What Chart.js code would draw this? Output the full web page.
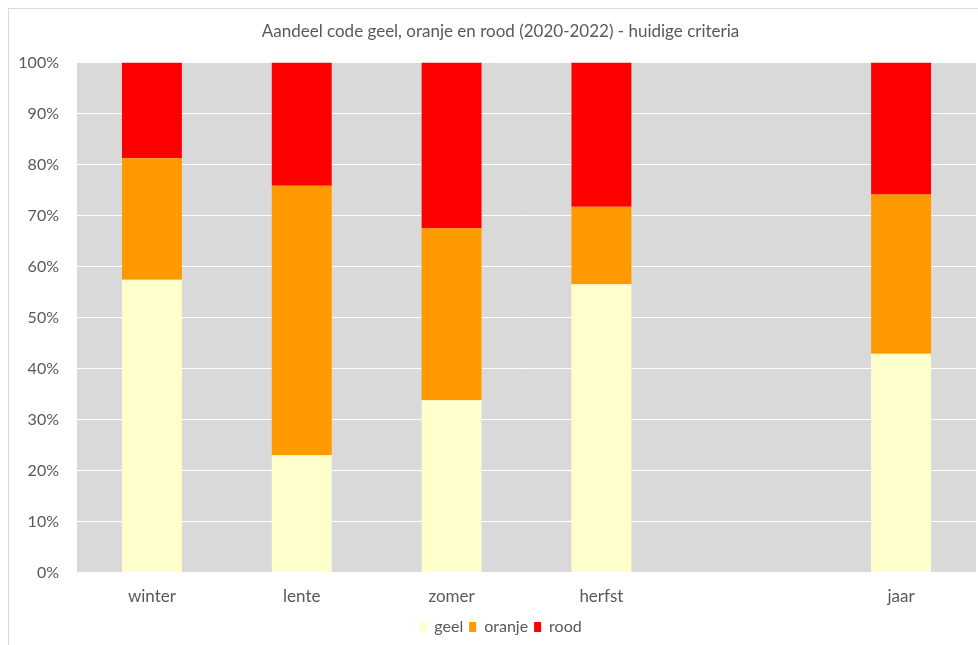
<!DOCTYPE html>
<html>
<head>
<meta charset="utf-8">
<script src="https://cdn.jsdelivr.net/npm/chart.js@4/dist/chart.umd.min.js"></script>
<style>
  html, body { margin: 0; padding: 0; background: #fff; overflow: hidden; }
  #wrap { width: 1000px; height: 645px; }
</style>
</head>
<body>
<div id="wrap"><canvas id="myChart" width="1000" height="645"></canvas></div>
<script>
const categories = ['winter', 'lente', 'zomer', 'herfst', '', 'jaar']
const geel = [57.4, 23.0, 33.8, 56.5, null, 42.9]
const oranje = [23.8, 52.8, 33.7, 15.2, null, 31.2]
const rood = [18.8, 24.2, 32.5, 28.3, null, 25.9]
const yTicks = [0, 10, 20, 30, 40, 50, 60, 70, 80, 90, 100]

const textColor = '#595959'
const fontFamily = 'Lato, "Open Sans", sans-serif'

// grey plot background and the thin frame round the whole chart
const frame = {
    id: 'frame',
    beforeDraw(chart) {
        const ctx = chart.ctx
        const a = chart.chartArea
        ctx.save()
        ctx.fillStyle = '#ffffff'
        ctx.fillRect(0, 0, chart.width, chart.height)
        ctx.strokeStyle = '#d9d9d9'
        ctx.lineWidth = 1
        ctx.strokeRect(8.5, 8.5, 985, 700)
        ctx.fillStyle = '#d9d9d9'
        ctx.fillRect(a.left, a.top, a.right - a.left, a.bottom - a.top)
        ctx.restore()
    }
}

const ctx = document.getElementById('myChart')

new Chart(ctx, {
    type: 'bar',
    data: {
        labels: categories,
        datasets: [
            { label: 'geel', data: geel, backgroundColor: '#ffffcc' },
            { label: 'oranje', data: oranje, backgroundColor: '#ff9900' },
            { label: 'rood', data: rood, backgroundColor: '#ff0000' }
        ]
    },
    options: {
        responsive: false,
        animation: false,
        layout: { padding: { left: 8, right: 7, top: 8, bottom: 0 } },
        datasets: { bar: { barPercentage: 0.4, categoryPercentage: 1.0 } },
        scales: {
            x: {
                stacked: true,
                grid: { display: false },
                border: { display: false },
                ticks: { color: textColor, font: { family: fontFamily, size: 17 }, padding: 6 }
            },
            y: {
                stacked: true,
                min: 0,
                max: 100,
                afterBuildTicks: (scale) => { scale.ticks = yTicks.map(v => ({ value: v })) },
                afterFit: (scale) => { scale.width = 69 },
                grid: { color: '#ffffff', lineWidth: 1, drawTicks: false },
                border: { display: false },
                ticks: {
                    color: textColor,
                    font: { family: fontFamily, size: 16 },
                    padding: 18,
                    callback: (v) => v + '%'
                }
            },
            // spacer on the right so the plot stops short of the frame
            y2: {
                position: 'right',
                grid: { display: false },
                border: { display: false },
                ticks: { display: false },
                afterFit: (scale) => { scale.width = 17 }
            }
        },
        plugins: {
            title: {
                display: true,
                text: 'Aandeel code geel, oranje en rood (2020-2022) - huidige criteria',
                color: textColor,
                font: { family: fontFamily, size: 17, weight: 'normal' },
                padding: { top: 13, bottom: 21 }
            },
            legend: {
                position: 'bottom',
                labels: {
                    color: textColor,
                    font: { family: fontFamily, size: 16 },
                    boxWidth: 7,
                    boxHeight: 10,
                    padding: 6
                }
            },
            tooltip: { enabled: false }
        }
    },
    plugins: [frame]
})
</script>
</body>
</html>
